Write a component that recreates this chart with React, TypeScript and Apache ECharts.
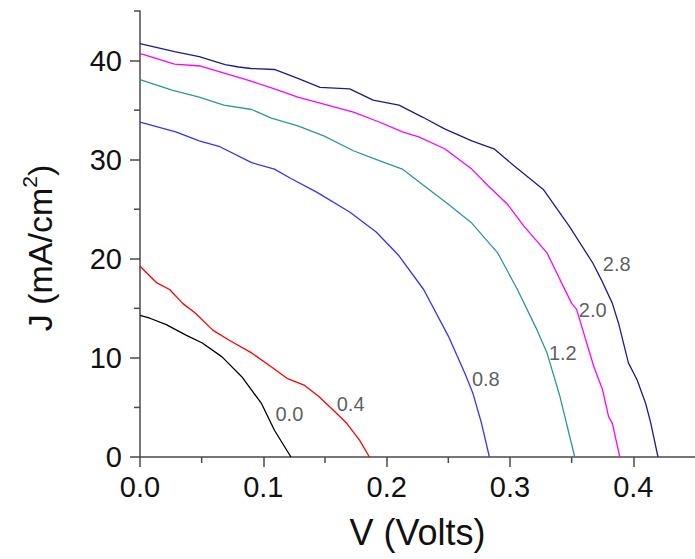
import React, { useEffect, useRef } from "react";
import * as echarts from "echarts";

// Curve data: V (Volts) and J (mA/cm^2) per curve
const v28 = [0, 0.028, 0.048, 0.069, 0.08, 0.09, 0.109, 0.128, 0.146, 0.17, 0.189, 0.21, 0.229, 0.247, 0.269, 0.287, 0.303, 0.327, 0.348, 0.367, 0.374, 0.383, 0.388, 0.396, 0.403, 0.41, 0.414, 0.42];
const j28 = [41.7, 40.9, 40.4, 39.6, 39.35, 39.2, 39.1, 38.2, 37.3, 37.15, 36.0, 35.5, 34.3, 33.1, 31.9, 31.1, 29.4, 27.0, 23.3, 19.6, 17.9, 15.5, 13.5, 9.5, 7.8, 5.4, 3.5, 0];

const v20 = [0, 0.003, 0.028, 0.049, 0.069, 0.088, 0.109, 0.128, 0.152, 0.173, 0.194, 0.2127, 0.226, 0.247, 0.269, 0.282, 0.298, 0.3113, 0.33, 0.3405, 0.35, 0.354, 0.368, 0.375, 0.38, 0.383, 0.389];
const j20 = [40.7, 40.6, 39.65, 39.45, 38.7, 38.0, 37.15, 36.3, 35.5, 34.8, 33.8, 32.8, 32.3, 31.1, 29.05, 27.4, 25.5, 23.3, 20.6, 17.9, 15.5, 14.9, 9.1, 6.8, 4.05, 3.4, 0];

const v12 = [0, 0.0266, 0.048, 0.068, 0.0905, 0.1065, 0.128, 0.149, 0.173, 0.194, 0.2127, 0.229, 0.25, 0.269, 0.29, 0.306, 0.322, 0.33, 0.3405, 0.3525];
const j12 = [38.07, 37.0, 36.3, 35.5, 35.06, 34.2, 33.4, 32.4, 30.9, 29.9, 29.05, 27.5, 25.5, 23.6, 20.6, 16.9, 12.8, 10.5, 6.1, 0];

const v08 = [0, 0.029, 0.048, 0.064, 0.0905, 0.109, 0.1224, 0.1436, 0.1703, 0.1915, 0.21, 0.23, 0.25, 0.2634, 0.27, 0.2769, 0.2833];
const j08 = [33.8, 32.8, 31.9, 31.35, 29.7, 29.05, 28.1, 26.7, 24.7, 22.7, 20.3, 16.9, 12.2, 8.45, 6.4, 3.4, 0];

const v04 = [0, 0.0133, 0.024, 0.0346, 0.045, 0.059, 0.072, 0.0905, 0.1064, 0.1197, 0.133, 0.145, 0.157, 0.1676, 0.178, 0.186];
const j04 = [19.25, 17.6, 16.9, 15.5, 14.5, 12.8, 11.8, 10.5, 9.1, 7.9, 7.26, 6.1, 4.7, 3.4, 1.7, 0];

const v00 = [0, 0.008, 0.0213, 0.0373, 0.0505, 0.0665, 0.0825, 0.0985, 0.109, 0.1224];
const j00 = [14.3, 14.0, 13.35, 12.3, 11.5, 10.1, 8.1, 5.4, 2.7, 0];

// Curve annotations
const labelText = ["0.0", "0.4", "0.8", "1.2", "2.0", "2.8"];
const labelV = [0.1211, 0.1708, 0.2804, 0.3428, 0.3671, 0.3865];
const labelJ = [4.33, 5.37, 7.85, 10.5, 14.8, 19.5];

// Ticks
const xMajor = [0, 0.1, 0.2, 0.3, 0.4];
const xMinor = [0.05, 0.15, 0.25, 0.35];
const yMajor = [0, 10, 20, 30, 40];
const yMinor = [5, 15, 25, 35, 45];

const FONT = "'Liberation Sans', Arial, sans-serif";
const AXIS_COLOR = "#4a4a4a";

function pairs(v: number[], j: number[]) {
  return v.map((x, i) => [x, j[i]]);
}

export default function App() {
  const ref = useRef<HTMLDivElement>(null);
  useEffect(() => {
    document.body.style.margin = "0";
    if (!ref.current) return;
    const chart = echarts.init(ref.current, null, { renderer: "svg" });
    const lineSeries = (name: string, v: number[], j: number[], color: string) => ({
      name,
      type: "line",
      data: pairs(v, j),
      showSymbol: false,
      symbol: "none",
      lineStyle: { color, width: 1.3 },
      z: 3,
    });
    const minorTickSeries = (data: number[][], dir: "x" | "y") => ({
      type: "custom",
      clip: false,
      silent: true,
      z: 5,
      data,
      renderItem: (_params: any, api: any) => {
        const p = api.coord([api.value(0), api.value(1)]);
        const shape =
          dir === "x"
            ? { x1: p[0], y1: p[1], x2: p[0], y2: p[1] + 6 }
            : { x1: p[0], y1: p[1], x2: p[0] - 6, y2: p[1] };
        return {
          type: "line",
          shape,
          style: { stroke: AXIS_COLOR, lineWidth: 1.5 },
        };
      },
    });
    chart.setOption({
      animation: false,
      backgroundColor: "#ffffff",
      grid: { left: 140, right: -8, top: 11, bottom: 102, containLabel: false },
      xAxis: {
        type: "value",
        min: 0,
        max: 0.45,
        axisLine: { show: true, lineStyle: { color: AXIS_COLOR, width: 1.5 } },
        axisTick: { show: true, customValues: xMajor, length: 10, inside: false, lineStyle: { color: AXIS_COLOR, width: 1.5 } },
        axisLabel: {
          show: true,
          customValues: xMajor,
          margin: 15,
          fontSize: 29,
          fontFamily: FONT,
          color: "#111",
          formatter: (val: number) => val.toFixed(1),
        },
        splitLine: { show: false },
        name: "V (Volts)",
        nameLocation: "middle",
        nameGap: 57,
        nameTextStyle: { fontSize: 36, fontFamily: FONT, color: "#111" },
      },
      yAxis: {
        type: "value",
        min: 0,
        max: 45,
        axisLine: { show: true, lineStyle: { color: AXIS_COLOR, width: 1.5 } },
        axisTick: { show: true, customValues: yMajor, length: 10, lineStyle: { color: AXIS_COLOR, width: 1.5 } },
        axisLabel: {
          show: true,
          customValues: yMajor,
          margin: 18,
          fontSize: 29,
          fontFamily: FONT,
          color: "#111",
          formatter: (val: number) => String(val),
        },
        splitLine: { show: false },
      },
      graphic: [
        {
          type: "text",
          x: 40,
          y: 248,
          rotation: Math.PI / 2,
          style: {
            text: "J (mA/cm{sup|2})",
            fontSize: 34,
            fontFamily: FONT,
            fill: "#111",
            align: "center",
            verticalAlign: "middle",
            rich: {
              sup: { fontSize: 21, fontFamily: FONT, fill: "#111", padding: [0, 0, 22, 0] },
            },
          },
        },
      ],
      series: [
        lineSeries("0.0", v00, j00, "#000000"),
        lineSeries("0.4", v04, j04, "#ff0000"),
        lineSeries("0.8", v08, j08, "#3333ff"),
        lineSeries("1.2", v12, j12, "#2a9898"),
        lineSeries("2.0", v20, j20, "#ff00ff"),
        lineSeries("2.8", v28, j28, "#1c1c8c"),
        minorTickSeries(xMinor.map((x) => [x, 0]), "x"),
        minorTickSeries(yMinor.map((y) => [0, y]), "y"),
        {
          type: "scatter",
          data: labelV.map((x, i) => [x, labelJ[i], labelText[i]]),
          symbol: "circle",
          symbolSize: 1,
          itemStyle: { color: "transparent" },
          silent: true,
          z: 4,
          label: {
            show: true,
            position: "inside",
            fontSize: 20,
            fontFamily: FONT,
            color: "#333",
            formatter: (p: any) => p.data[2],
          },
        },
      ],
    });
    return () => chart.dispose();
  }, []);
  return <div ref={ref} style={{ width: 695, height: 559 }} />;
}
